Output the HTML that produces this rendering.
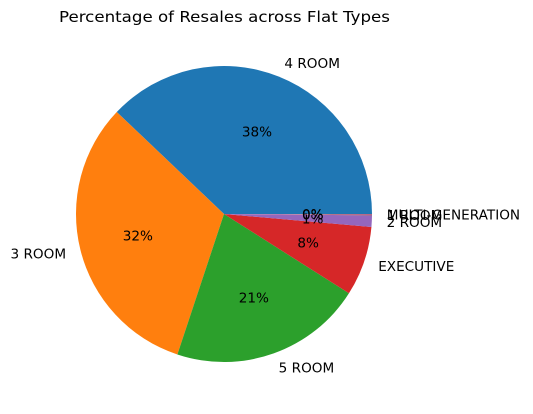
<!DOCTYPE html>
<html><head><meta charset="utf-8"><style>
body{margin:0;background:#fff;}
svg text{font-family:"DejaVu Sans","Liberation Sans",sans-serif;}
</style></head><body>
<svg id="chart" width="533" height="409" xmlns="http://www.w3.org/2000/svg">
<text x="224.5" y="22" text-anchor="middle" font-size="15.5" textLength="331" lengthAdjust="spacingAndGlyphs">Percentage of Resales across Flat Types</text>
<g id="slices"></g>
</svg>
<script>
const categories = ["4 ROOM","3 ROOM","5 ROOM","EXECUTIVE","2 ROOM","1 ROOM","MULTI-GENERATION"];
const shares = [37.9, 32.0, 21.1, 7.6, 1.25, 0.1, 0.05];
const colors = ["#1f77b4","#ff7f0e","#2ca02c","#d62728","#9467bd","#8c564b","#e377c2"];
const cx=224, cy=214, r=148;
const svg=document.getElementById('slices');
const NS="http://www.w3.org/2000/svg";
const total=shares.reduce((a,b)=>a+b,0);
let start=0;
function pt(a,rr){return [cx+rr*Math.cos(a), cy-rr*Math.sin(a)];}
shares.forEach((v,i)=>{
  const sweep=v/total*2*Math.PI, end=start+sweep;
  const p1=pt(start,r), p2=pt(end,r);
  const path=document.createElementNS(NS,'path');
  path.setAttribute('d',`M${cx},${cy} L${p1[0]},${p1[1]} A${r},${r} 0 ${sweep>Math.PI?1:0} 0 ${p2[0]},${p2[1]} Z`);
  path.setAttribute('fill',colors[i]);
  
  
  svg.appendChild(path);
  const mid=(start+end)/2;
  const lp=pt(mid,r*1.1);
  const t=document.createElementNS(NS,'text');
  t.setAttribute('x',lp[0]); t.setAttribute('y',lp[1]+5);
  t.setAttribute('font-size','13.6');
  t.setAttribute('text-anchor',Math.cos(mid)>=0?'start':'end');
  t.textContent=categories[i];
  
  
  svg.appendChild(t);
  const pp=pt(mid,r*0.6);
  const t2=document.createElementNS(NS,'text');
  t2.setAttribute('x',pp[0]); t2.setAttribute('y',pp[1]+5);
  t2.setAttribute('font-size','13.6');
  t2.setAttribute('text-anchor','middle');
  t2.textContent=Math.round(v)+'%';
  
  
  svg.appendChild(t2);
  start=end;
});
</script>
</body></html>
